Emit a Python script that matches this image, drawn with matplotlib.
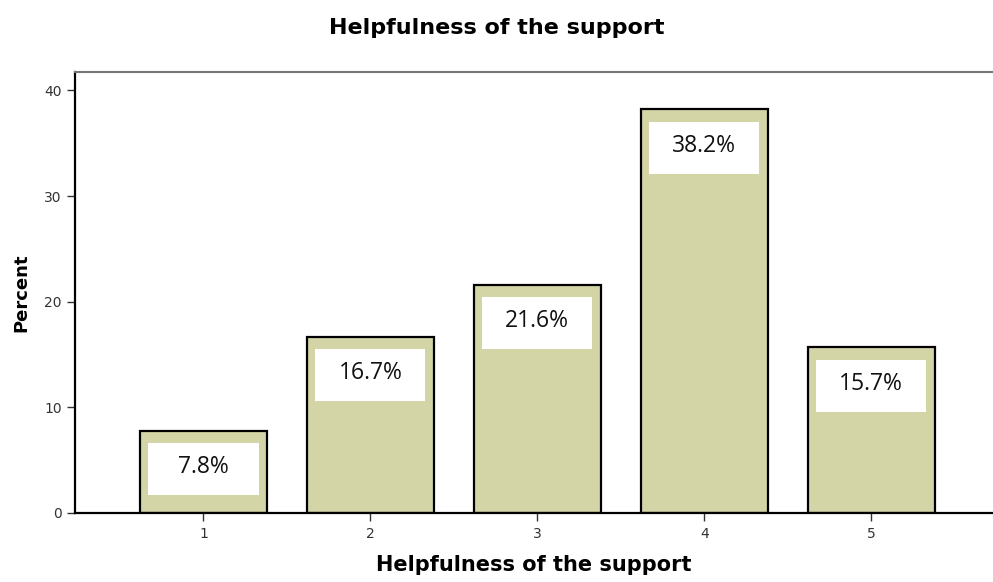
import matplotlib
matplotlib.use("Agg")
import matplotlib.pyplot as plt
from matplotlib.patches import Rectangle

categories = ["1", "2", "3", "4", "5"]
percents = [7.8, 16.7, 21.6, 38.2, 15.7]
labels = ["7.8%", "16.7%", "21.6%", "38.2%", "15.7%"]
yticks = [0, 10, 20, 30, 40]

fig = plt.figure(figsize=(9.93, 5.82), dpi=100)
ax = fig.add_axes([0.0755, 0.1186, 0.9245, 0.757])

xs = list(range(1, len(categories) + 1))
ax.bar(xs, percents, width=0.76, color="#d4d5a7", edgecolor="black", linewidth=1.6, zorder=2)

for x, v, lab in zip(xs, percents, labels):
    top = v - 1.2
    h = 4.9
    ax.add_patch(Rectangle((x - 0.33, top - h), 0.66, h, facecolor="white",
                           edgecolor="none", zorder=3))
    ax.text(x, top - h / 2 + 0.2, lab, ha="center", va="center", fontsize=16.5,
            family="Open Sans", color="#111111", zorder=4)

ax.set_xlim(0.23, 5.73)
ax.set_ylim(0, 41.7)
ax.set_xticks(xs)
ax.set_xticklabels(categories)
ax.set_yticks(yticks)
ax.tick_params(axis="both", labelsize=10, colors="#333333", length=6, width=1)
ax.tick_params(axis="x", pad=4)

for s in ["left", "bottom"]:
    ax.spines[s].set_linewidth(1.6)
    ax.spines[s].set_color("black")
ax.spines["top"].set_color("#777777")
ax.spines["top"].set_linewidth(1.5)
ax.spines["right"].set_visible(False)

ax.set_ylabel("Percent", fontsize=13, fontweight="bold", family="Liberation Sans Narrow", labelpad=10)
ax.set_xlabel("Helpfulness of the support", fontsize=15, fontweight="bold", family="DejaVu Sans", labelpad=10)
fig.text(0.5, 0.952, "Helpfulness of the support", ha="center", va="center",
         fontsize=16, fontweight="bold", family="DejaVu Sans")

fig.savefig("out.png", dpi=100)
